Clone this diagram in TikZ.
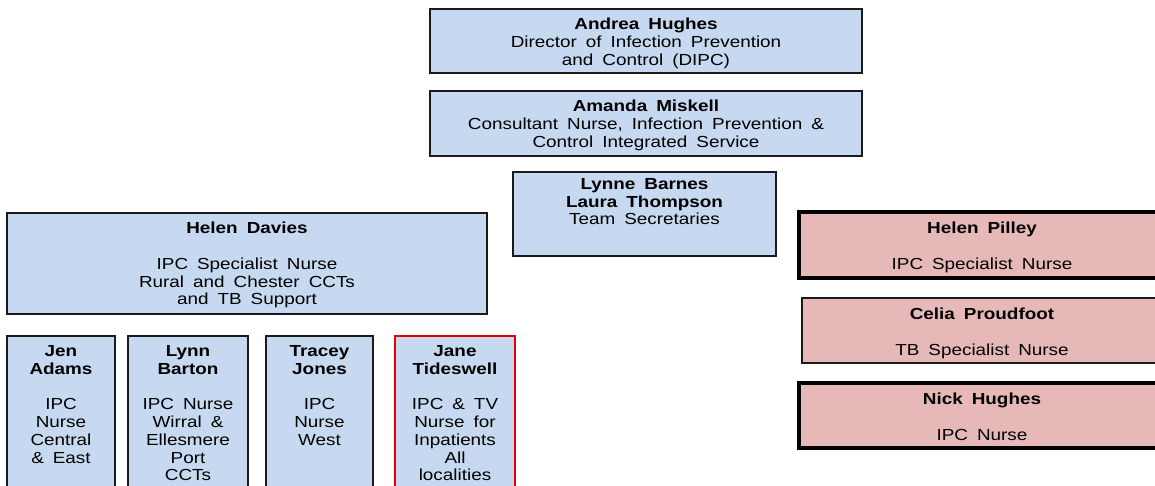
\documentclass[tikz,border=0pt]{standalone}
\usepackage{fontspec}
\setmainfont{Liberation Sans}[FakeStretch=1.18]
\definecolor{boxblue}{HTML}{C6D9F0}
\definecolor{boxpink}{HTML}{E6B9B8}
\definecolor{edge}{HTML}{1A1A1A}
\newcommand\chartfont{\fontsize{16}{17.8}\selectfont\spaceskip=9pt plus 1pt minus 1pt\relax}
\tikzset{
  post/.style={draw=edge, line width=1.8pt, fill=boxblue, anchor=north west,
    inner sep=0pt, outer sep=0pt},
  redpost/.style={post, draw=red!90!black},
  pinkpost/.style={post, fill=boxpink, draw=black, line width=4pt},
  pinkthin/.style={post, fill=boxpink, draw=edge, line width=2pt},
  txt/.style={anchor=north, align=center, inner sep=0pt, text=black,
    font=\chartfont}
}
\begin{document}
\begin{tikzpicture}[x=1pt,y=-1pt]
\useasboundingbox (0,0) rectangle (1155,486);
\clip (0,0) rectangle (1155,486);

% leadership
\node[post, minimum width=432pt, minimum height=64pt] (andrea) at (430,9) {};
\node[txt] (andreaT) at (646,18) {\textbf{Andrea Hughes}\\Director of Infection Prevention\\and Control (DIPC)};

\node[post, minimum width=432pt, minimum height=65pt] (amanda) at (430,91) {};
\node[txt] (amandaT) at (646,100) {\textbf{Amanda Miskell}\\Consultant Nurse, Infection Prevention \&\\Control Integrated Service};

\node[post, minimum width=263pt, minimum height=84pt] (secs) at (513,172) {};
\node[txt] (secsT) at (644.5,178) {\textbf{Lynne Barnes}\\\textbf{Laura Thompson}\\Team Secretaries};

% specialist nurse and team
\node[post, minimum width=480pt, minimum height=101pt] (davies) at (7,213) {};
\node[txt] (daviesT) at (247,222) {\textbf{Helen Davies}\\[17.8pt]IPC Specialist Nurse\\Rural and Chester CCTs\\and TB Support};

\node[post, minimum width=108pt, minimum height=170pt] (jen) at (7,336) {};
\node[txt] (jenT) at (61,345) {\textbf{Jen}\\\textbf{Adams}\\[17.8pt]IPC\\Nurse\\Central\\\& East};

\node[post, minimum width=120pt, minimum height=170pt] (lynn) at (128,336) {};
\node[txt] (lynnT) at (188,345) {\textbf{Lynn}\\\textbf{Barton}\\[17.8pt]IPC Nurse\\Wirral \&\\Ellesmere\\Port\\CCTs};

\node[post, minimum width=107pt, minimum height=170pt] (tracey) at (266,336) {};
\node[txt] (traceyT) at (319.5,345) {\textbf{Tracey}\\\textbf{Jones}\\[17.8pt]IPC\\Nurse\\West};

\node[redpost, minimum width=120pt, minimum height=170pt] (jane) at (395,336) {};
\node[txt] (janeT) at (455,345) {\textbf{Jane}\\\textbf{Tideswell}\\[17.8pt]IPC \& TV\\Nurse for\\Inpatients\\All\\localities};

% right-hand column
\node[pinkpost, minimum width=366pt, minimum height=66pt] (pilley) at (799,212) {};
\node[txt] (pilleyT) at (982,222) {\textbf{Helen Pilley}\\[17.8pt]IPC Specialist Nurse};

\node[pinkthin, minimum width=360pt, minimum height=65pt] (celia) at (802,298) {};
\node[txt] (celiaT) at (982,308) {\textbf{Celia Proudfoot}\\[17.8pt]TB Specialist Nurse};

\node[pinkpost, minimum width=366pt, minimum height=65pt] (nick) at (799,383) {};
\node[txt] (nickT) at (982,393) {\textbf{Nick Hughes}\\[17.8pt]IPC Nurse};
\end{tikzpicture}
\end{document}
